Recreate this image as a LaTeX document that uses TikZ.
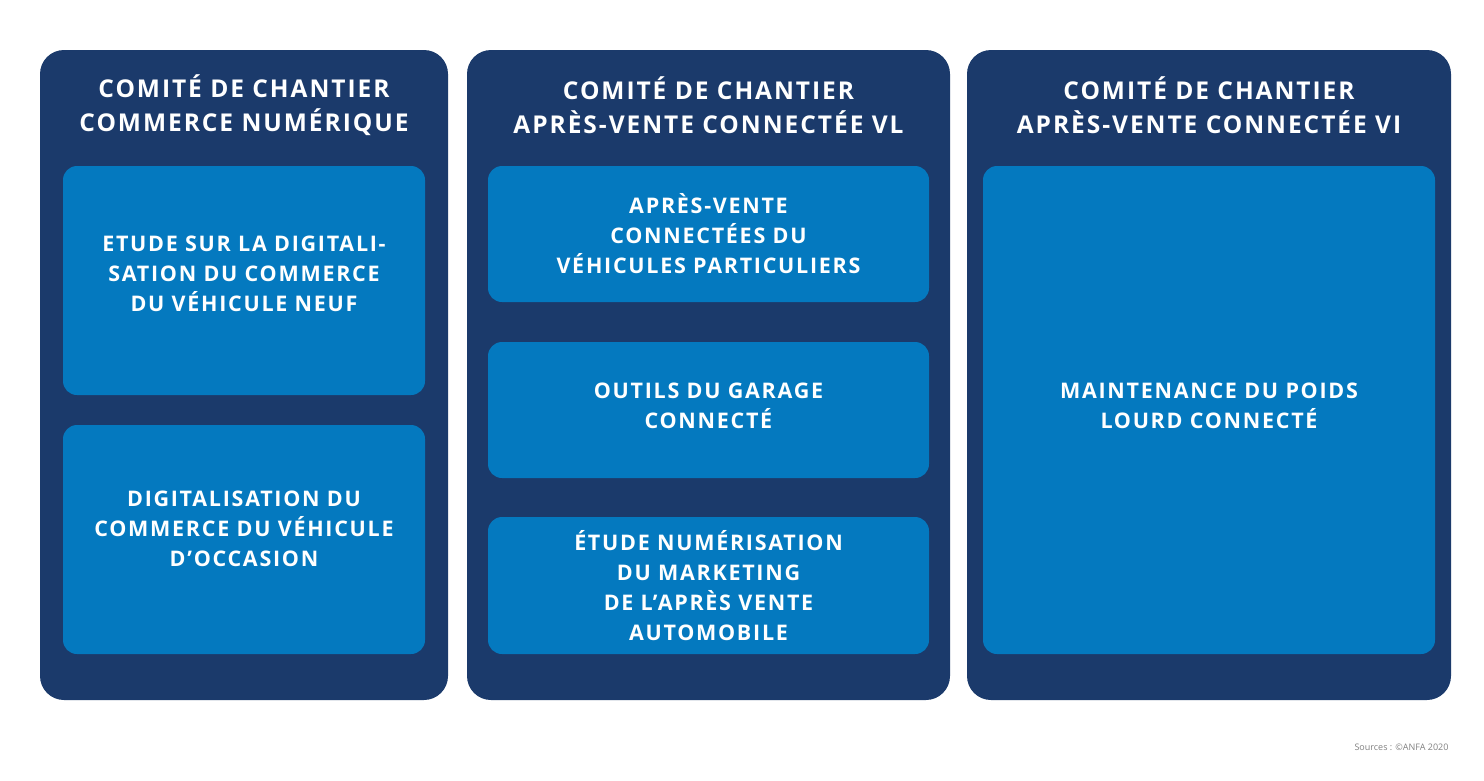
\documentclass[tikz,border=0pt]{standalone}
\usepackage{fontspec}
\setmainfont{Open Sans}
\newfontfamily\widefont[LetterSpace=8]{Open Sans}
\definecolor{navy}{HTML}{1B3A6B}
\definecolor{blu}{HTML}{0479BF}
\begin{document}
\begin{tikzpicture}[x=1pt,y=-1pt,
  col/.style={fill=navy,rounded corners=24pt,inner sep=0pt},
  card/.style={fill=blu,rounded corners=14pt,inner sep=0pt,text=white,align=center,
    font=\widefont\bfseries\fontsize{21.5}{30}\selectfont},
  head/.style={text=white,align=center,font=\widefont\bfseries\fontsize{24.5}{34}\selectfont}]
\useasboundingbox (0,0) rectangle (1484,780);
% columns
\node[col,minimum width=408pt,minimum height=650pt] (c1) at (244,375) {};
\node[col,minimum width=483pt,minimum height=650pt] (c2) at (708.5,375) {};
\node[col,minimum width=484pt,minimum height=650pt] (c3) at (1209,375) {};
\node[head] (h1) at (244,105) {COMITÉ DE CHANTIER\\COMMERCE NUMÉRIQUE};
\node[head] (h2) at (708.5,105) {COMITÉ DE CHANTIER\\APRÈS-VENTE CONNECTÉE VL};
\node[head] (h3) at (1209,105) {COMITÉ DE CHANTIER\\APRÈS-VENTE CONNECTÉE VI};
% cards
\node[card,minimum width=362pt,minimum height=229pt] (a1) at (244,280.5) {};
\node[card] at (244,274) {ETUDE SUR LA DIGITALI-\\SATION DU COMMERCE\\DU VÉHICULE NEUF};
\node[card,minimum width=362pt,minimum height=229pt] (a2) at (244,539.5) {};
\node[card] at (244,529) {DIGITALISATION DU\\COMMERCE DU VÉHICULE\\D’OCCASION};
\node[card,minimum width=441pt,minimum height=136pt] (b1) at (708.5,234) {APRÈS-VENTE\\CONNECTÉES DU\\VÉHICULES PARTICULIERS};
\node[card,minimum width=441pt,minimum height=136pt] (b2) at (708.5,410) {};
\node[card] at (708.5,406) {OUTILS DU GARAGE\\CONNECTÉ};
\node[card,minimum width=441pt,minimum height=137pt] (b3) at (708.5,585.5) {ÉTUDE NUMÉRISATION\\DU MARKETING\\DE L’APRÈS VENTE\\AUTOMOBILE};
\node[card,minimum width=452pt,minimum height=488pt] (d1) at (1209,410) {};
\node[card] at (1209,406) {MAINTENANCE DU POIDS\\LOURD CONNECTÉ};
\node[anchor=east,text=gray,font=\fontsize{9}{10}\selectfont] (src) at (1452,747) {Sources : ©ANFA 2020};
\end{tikzpicture}
\end{document}
